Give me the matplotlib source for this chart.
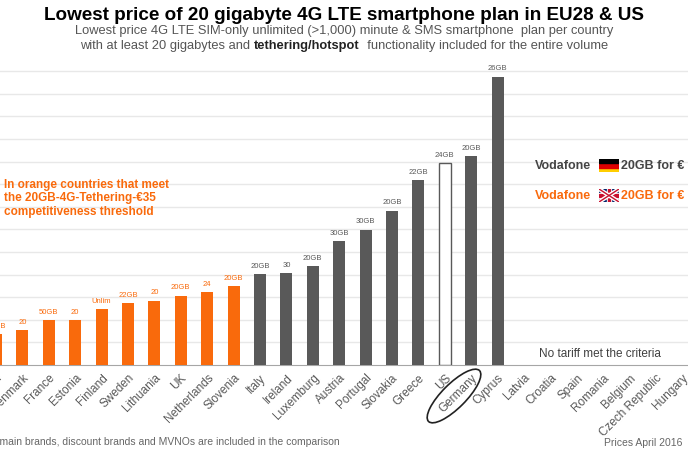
import matplotlib
matplotlib.use("Agg")
import matplotlib.pyplot as plt
from matplotlib.patches import Ellipse, Rectangle
from matplotlib.transforms import IdentityTransform

plt.rcParams['font.family'] = ['Liberation Sans', 'DejaVu Sans']

# Data (price units follow the gridlines, every 10)
countries = ["Poland", "Denmark", "France", "Estonia", "Finland", "Sweden",
             "Lithuania", "UK", "Netherlands", "Slovenia", "Italy", "Ireland",
             "Luxemburg", "Austria", "Portugal", "Slovakia", "Greece", "US",
             "Germany", "Cyprus", "Latvia", "Croatia", "Spain", "Romania",
             "Belgium", "Czech Republic", "Hungary", "Malta"]
prices = [13.6, 15.5, 19.9, 19.9, 24.9, 27.3, 28.5, 30.7, 32.3, 34.9,
          40.1, 40.6, 43.9, 54.7, 59.9, 68.3, 81.9, 89.5, 92.5, 127.6]
volumes = ["20GB", "20", "50GB", "20", "Unlim", "22GB", "20", "20GB", "24",
           "20GB", "20GB", "30", "20GB", "30GB", "30GB", "20GB", "22GB",
           "24GB", "20GB", "26GB"]
threshold = 35

ORANGE = "#f96a0c"
GREY = "#595959"
TXT = "#595959"

W, H = 688, 459
fig = plt.figure(figsize=(W / 100, H / 100), dpi=100)


def fx(px):
    return px / W


def fy(py):
    return 1 - py / H


# axes wider than the figure, so the chart looks cropped like the reference
step = 26.4
x0 = -4
left_px = x0 - 0.6 * step
ax = fig.add_axes([fx(left_px), fy(365), (28.2 * step) / W, (134 * 2.26) / H])
ax.set_xlim(-0.6, 27.6)
ax.set_ylim(0, 134)

for i, (p, v) in enumerate(zip(prices, volumes)):
    if countries[i] == "US":
        ax.bar(i, p, width=0.45, color="white", edgecolor=GREY, linewidth=1, zorder=3)
        col = TXT
    elif p <= threshold:
        ax.bar(i, p, width=0.45, color=ORANGE, zorder=3)
        col = ORANGE
    else:
        ax.bar(i, p, width=0.45, color=GREY, zorder=3)
        col = TXT
    ax.annotate(v, (i, p), xytext=(0, 3), textcoords="offset points",
                ha="center", va="bottom", fontsize=5.5, color=col)

ax.set_yticks(range(10, 131, 10))
ax.yaxis.grid(True, color="#e8e8e8", linewidth=1, zorder=0)
ax.tick_params(axis="y", length=0, labelleft=False)
ax.set_xticks(range(len(countries)))
ax.set_xticklabels(countries, rotation=45, ha="right", rotation_mode="anchor",
                   fontsize=8.5, color=TXT)
ax.tick_params(axis="x", length=0, pad=5)
for s in ["top", "right", "left"]:
    ax.spines[s].set_visible(False)
ax.spines["bottom"].set_color("#a6a6a6")

ax.text(22.88, 4.9, "No tariff met the criteria", ha="center", va="center",
        fontsize=8.5, color="#404040")

# Germany circled
fig.add_artist(Ellipse((454, H - 396), 72, 24, angle=45, fill=False,
                       edgecolor="#222222", linewidth=1.2,
                       transform=IdentityTransform()))

# Titles
fig.text(0.5, fy(15), "Lowest price of 20 gigabyte 4G LTE smartphone plan in EU28 & US",
         ha="center", va="center", fontsize=13.6, fontweight="bold", color="black")
fig.text(0.5, fy(31), "Lowest price 4G LTE SIM-only unlimited (>1,000) minute & SMS smartphone  plan per country",
         ha="center", va="center", fontsize=9.3, color="#555555")

parts = [("with at least 20 gigabytes and ", "normal", "#555555"),
         ("tethering/hotspot", "bold", "#222222"),
         ("  functionality included for the entire volume", "normal", "#555555")]
fig.canvas.draw()
r = fig.canvas.get_renderer()
objs = []
for t, w, c in parts:
    objs.append(fig.text(0, fy(46), t, ha="left", va="center", fontsize=9.3,
                         fontweight=w, color=c))
widths = [o.get_window_extent(r).width for o in objs]
x = (W - sum(widths)) / 2
for o, wd in zip(objs, widths):
    o.set_x(x / W)
    x += wd

# orange note
fig.text(fx(4), fy(179), "In orange countries that meet\nthe 20GB-4G-Tethering-€35\ncompetitiveness threshold",
         ha="left", va="top", fontsize=8.5, fontweight="bold", color=ORANGE,
         linespacing=1.15)

# Vodafone notes with small flags
fig.text(fx(535), fy(166), "Vodafone", ha="left", va="center", fontsize=9,
         fontweight="bold", color="#444444")
fig.text(fx(535), fy(196), "Vodafone", ha="left", va="center", fontsize=9,
         fontweight="bold", color=ORANGE)
fig.text(fx(621), fy(166), "20GB for €", ha="left", va="center", fontsize=9,
         fontweight="bold", color="#444444")
fig.text(fx(621), fy(196), "20GB for €", ha="left", va="center", fontsize=9,
         fontweight="bold", color=ORANGE)

de = fig.add_axes([fx(599), fy(172), 20 / W, 13 / H])
de.axis("off")
de.set_xlim(0, 1)
de.set_ylim(0, 3)
for k, c in enumerate(["#ffce00", "#dd0000", "#000000"]):
    de.add_patch(Rectangle((0, k), 1, 1, color=c))

uk = fig.add_axes([fx(599), fy(202), 20 / W, 13 / H])
uk.axis("off")
uk.set_xlim(0, 60)
uk.set_ylim(0, 30)
uk.add_patch(Rectangle((0, 0), 60, 30, color="#012169"))
uk.plot([0, 60], [0, 30], color="white", linewidth=3, solid_capstyle="butt")
uk.plot([0, 60], [30, 0], color="white", linewidth=3, solid_capstyle="butt")
uk.plot([0, 60], [0, 30], color="#c8102e", linewidth=1, solid_capstyle="butt")
uk.plot([0, 60], [30, 0], color="#c8102e", linewidth=1, solid_capstyle="butt")
uk.add_patch(Rectangle((25, 0), 10, 30, color="white"))
uk.add_patch(Rectangle((0, 10), 60, 10, color="white"))
uk.add_patch(Rectangle((27, 0), 6, 30, color="#c8102e"))
uk.add_patch(Rectangle((0, 12), 60, 6, color="#c8102e"))

# footnotes
fig.text(fx(340), fy(442), "All main brands, discount brands and MVNOs are included in the comparison",
         ha="right", va="center", fontsize=7.5, color="#666666")
fig.text(fx(682), fy(443), "Prices April 2016", ha="right", va="center",
         fontsize=7.5, color="#666666")

fig.savefig("out.png", dpi=100)
